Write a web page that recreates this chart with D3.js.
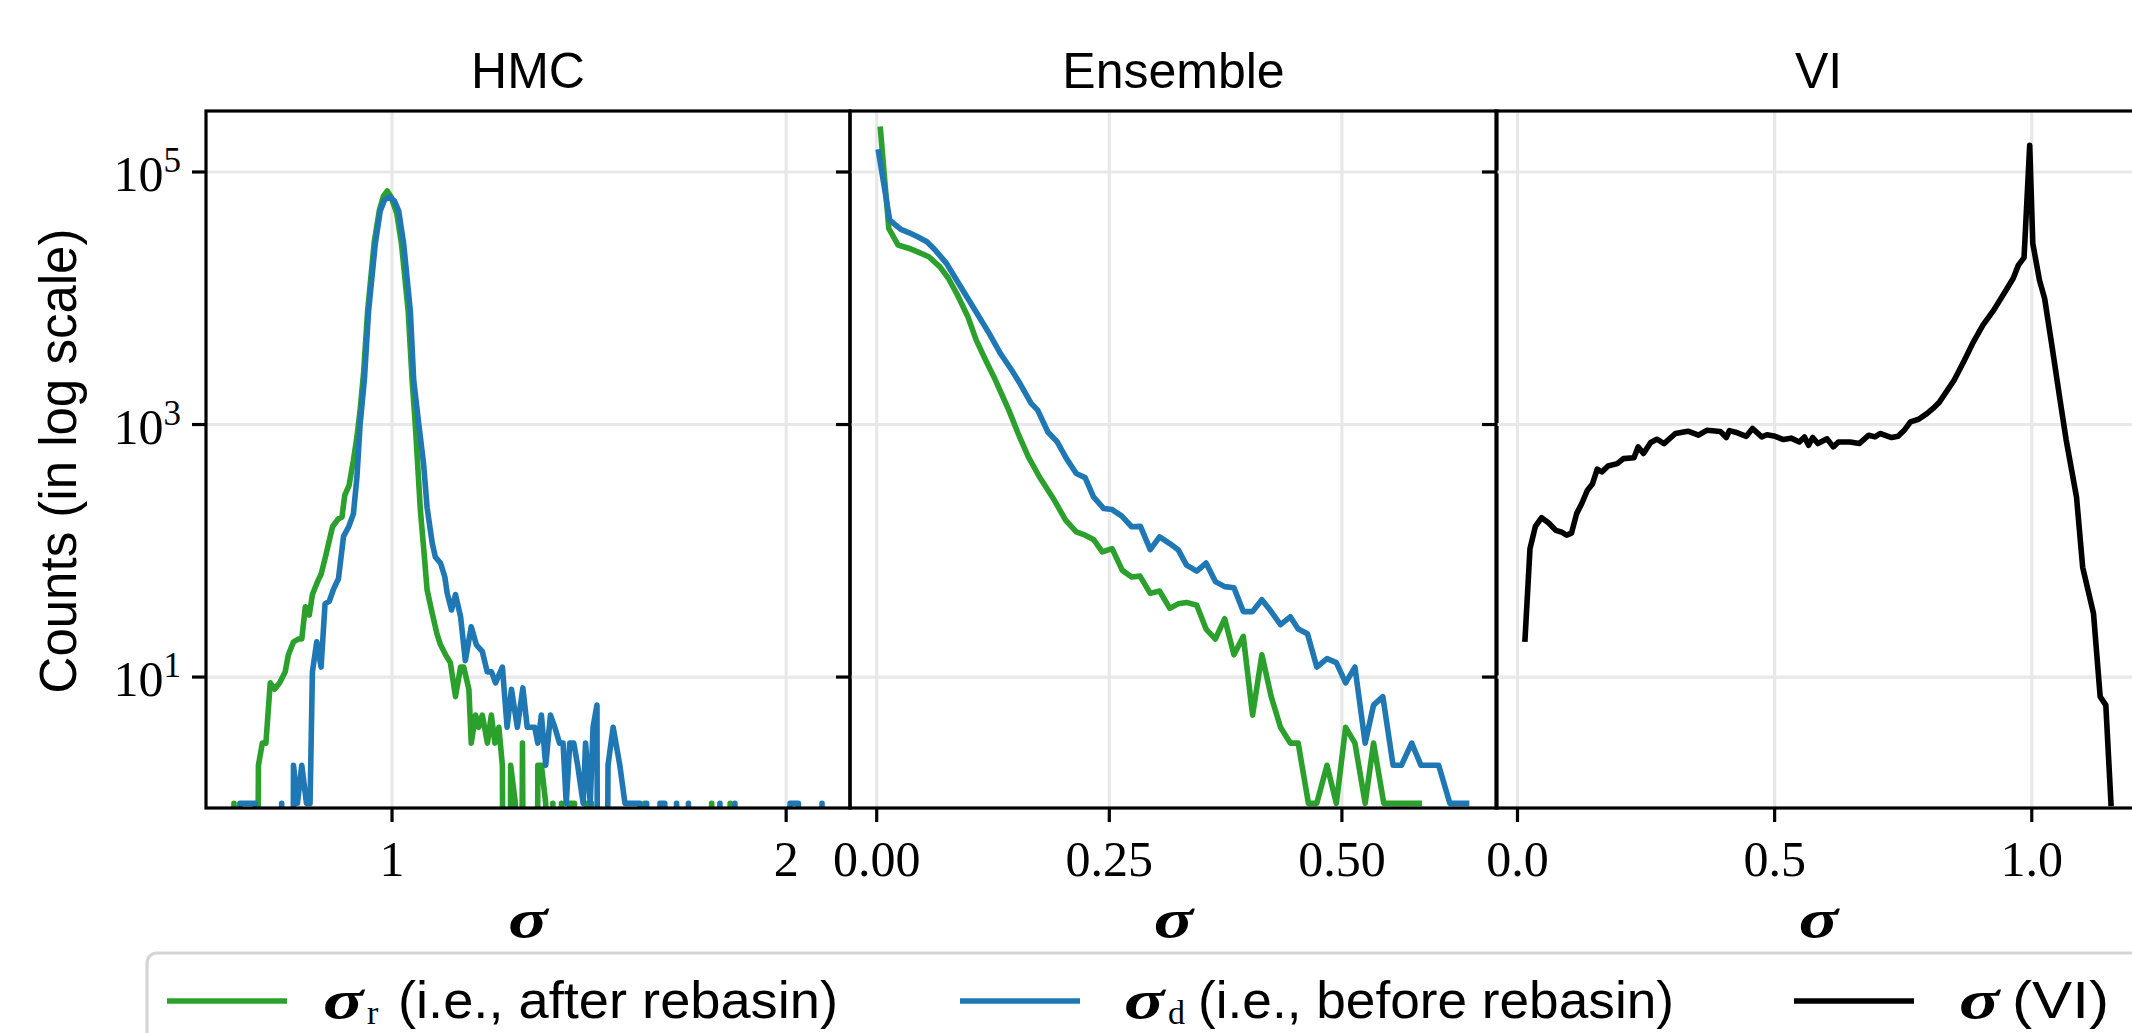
<!DOCTYPE html>
<html><head><meta charset="utf-8">
<script src="https://cdn.jsdelivr.net/npm/d3@7"></script>
<style>html,body{margin:0;padding:0;background:#fff;overflow:hidden}</style>
</head><body>
<svg id="chart" width="2132" height="1033" xmlns="http://www.w3.org/2000/svg"></svg>
<script>
// ---------------- DATA ----------------
const panelTitles = ["HMC", "Ensemble", "VI"];
const xLabel = "σ";
const yLabel = "Counts (in log scale)";

const hmcTicks = [1, 2];
const hmcTickLabels = ["1", "2"];
const ensTicks = [0, 0.25, 0.5];
const ensTickLabels = ["0.00", "0.25", "0.50"];
const viTicks = [0, 0.5, 1.0];
const viTickLabels = ["0.0", "0.5", "1.0"];
const yTicks = [10, 1000, 100000];
const yTickExponents = ["1", "3", "5"];

const legendLabels = ["(i.e., after rebasin)", "(i.e., before rebasin)", "(VI)"];
const legendSubscripts = ["r", "d", ""];

// HMC, sigma_r (after rebasin)
const hmcRebasinSigma = [0.588,0.599,0.611,0.650,0.661,0.671,0.680,0.691,0.702,0.715,0.729,0.737,0.750,0.763,0.771,0.780,0.790,0.798,0.813,0.820,0.832,0.849,0.864,0.873,0.880,0.891,0.902,0.911,0.919,0.928,0.938,0.955,0.968,0.978,0.988,0.997,1.012,1.024,1.041,1.051,1.059,1.072,1.080,1.089,1.102,1.114,1.123,1.136,1.148,1.161,1.174,1.182,1.195,1.201,1.212,1.220,1.229,1.242,1.252,1.261,1.271,1.280,1.288,1.296,1.301,1.313,1.321,1.331,1.341,1.362,1.370,1.379,1.390,1.396,1.408,1.420,1.430,1.440,1.451,1.463,1.475,1.482,1.493,1.506,1.518,1.630,1.641,1.653,1.799,1.811,1.823,1.846,1.858,1.870];
const hmcRebasinCounts = [0,1,0,0,2,3,3,9,8,9,11,15,19,20,20,36,31,45,59,65,92,155,180,185,275,330,520,800,1300,2600,7900,28000,50000,64000,70800,64000,47000,27000,7900,2240,1000,209,107,49,32,22,18,15,13,7,12,12,8,3,5,4,5,3,5,3,4,2,0,0,2,1,0,3,0,0,2,2,1,0,1,0,1,0,1,1,0,0,1,1,0,0,1,0,0,1,0,0,1,0];

// HMC, sigma_d (before rebasin)
const hmcDirectSigma = [0.602,0.614,0.627,0.640,0.653,0.665,0.708,0.720,0.732,0.742,0.750,0.760,0.771,0.783,0.792,0.798,0.809,0.820,0.830,0.841,0.852,0.864,0.877,0.890,0.902,0.911,0.919,0.930,0.9405,0.9575,0.970,0.981,0.9935,1.006,1.017,1.0295,1.0465,1.055,1.068,1.080,1.089,1.102,1.110,1.123,1.134,1.140,1.151,1.161,1.174,1.186,1.201,1.214,1.229,1.2415,1.2525,1.2626,1.280,1.292,1.303,1.318,1.332,1.343,1.354,1.362,1.370,1.379,1.390,1.402,1.413,1.425,1.434,1.442,1.451,1.461,1.471,1.485,1.491,1.503,1.510,1.520,1.525,1.537,1.548,1.561,1.578,1.591,1.604,1.616,1.629,1.638,1.634,1.646,1.658,1.668,1.680,1.692,1.704,1.710,1.722,1.734,1.740,1.752,1.764,1.820,1.832,1.844,1.858,1.870,1.882,1.998,2.010,2.031,2.043,2.079,2.091,2.103];
const hmcDirectCounts = [0,1,1,1,1,0,0,1,0,0,2,1,2,1,1,11,19,12,38,40,50,60,130,155,196,385,1000,2300,7900,27000,49000,60000,63500,59000,49000,27000,7900,2240,1000,490,220,115,89,80,62,46,34,45,30,13.5,25,18,16,11,11,9,12,4,8,4,8.2,4,4,4,3,5,2,5,4,3,3,1,3,3,2,1,3,1,4,6,0,0,2,4,2,1,1,1,1,0,0,1,0,0,1,1,0,0,1,0,0,1,0,0,1,0,0,1,0,0,1,1,0,0,1,0];

// Ensemble, sigma_r
const ensRebasinSigma = [0.004,0.013,0.023,0.035,0.044,0.056,0.068,0.077,0.086,0.098,0.107,0.117,0.126,0.134,0.142,0.152,0.163,0.175,0.191,0.203,0.2145,0.224,0.233,0.2425,0.253,0.264,0.274,0.283,0.294,0.304,0.315,0.324,0.333,0.344,0.354,0.364,0.374,0.384,0.394,0.404,0.414,0.424,0.434,0.4445,0.453,0.464,0.473,0.484,0.494,0.504,0.514,0.525,0.534,0.545,0.555,0.564,0.574,0.583];
const ensRebasinCounts = [218000,35700,26400,24800,23300,21300,17700,14400,10900,7130,4660,3240,2380,1760,1300,849,554,384,251,175,141,133,123,98,104,70,62,63,46,48,35,38,39,37,24,20,29,15,21,5,15,7,4,3,3,1,1,2,1,4,3,1,3,1,1,1,1,1];

// Ensemble, sigma_d
const ensDirectSigma = [0.002,0.014,0.026,0.035,0.044,0.054,0.063,0.075,0.086,0.098,0.110,0.121,0.133,0.145,0.154,0.166,0.173,0.184,0.194,0.204,0.2145,0.224,0.233,0.244,0.253,0.2635,0.274,0.2835,0.294,0.304,0.315,0.324,0.333,0.344,0.354,0.364,0.374,0.384,0.394,0.404,0.414,0.424,0.434,0.4445,0.453,0.463,0.473,0.484,0.494,0.504,0.514,0.525,0.534,0.544,0.555,0.564,0.575,0.585,0.594,0.604,0.616,0.625,0.634];
const ensDirectCounts = [144000,41600,35100,33000,30700,28000,24000,18900,13900,9950,7130,5250,3650,2700,2110,1470,1300,873,728,537,409,380,267,216,212,188,155,156,102,129,114,102,77,69,80,57,52,51,33,33,41,33,26,30,24,22,12,14,13,9,12,3,6,7,2,2,3,2,2,2,1,1,1];

// VI, sigma
const viSigma = [0.0146,0.0243,0.0348,0.0469,0.0607,0.0745,0.085,0.0955,0.105,0.115,0.125,0.136,0.146,0.155,0.164,0.176,0.194,0.206,0.2265,0.2345,0.245,0.259,0.271,0.285,0.307,0.3315,0.352,0.368,0.3945,0.406,0.412,0.424,0.445,0.457,0.475,0.485,0.501,0.517,0.532,0.548,0.558,0.566,0.574,0.584,0.602,0.614,0.624,0.647,0.6645,0.683,0.695,0.705,0.7275,0.740,0.752,0.764,0.780,0.796,0.808,0.8207,0.849,0.869,0.885,0.905,0.926,0.946,0.964,0.974,0.985,0.996,1.002,1.015,1.025,1.040,1.055,1.067,1.087,1.099,1.120,1.133,1.144,1.154];
const viCounts = [20,104,156,183,166,145,141,133,138,197,237,302,340,443,421,470,490,537,546,665,590,720,765,707,849,885,823,900,880,789,895,870,807,930,798,830,807,760,780,728,798,685,789,707,770,665,728,728,707,823,798,849,789,807,900,1050,1100,1220,1340,1510,2240,3230,4390,6120,8050,10900,14400,18300,21000,163000,27200,13900,9950,4000,1560,751,267,74,32,7,6,1];

// ---------------- LAYOUT / STYLE ----------------
const W = 2132, H = 1033;
const plotTop = 111, plotBottom = 808;
const colGreen = "#2ca02c", colBlue = "#1f77b4", colBlack = "#000000";
const serif = "'Liberation Serif','Times New Roman',serif";
const sans = "'Liberation Sans',Arial,sans-serif";
const lineW = 5.6, spineW = 3.2, tickLen = 14;

const panels = [
  {x0: 206, x1: 850, domain: [0.528, 2.162], ticks: hmcTicks, labels: hmcTickLabels,
   series: [[hmcRebasinSigma, hmcRebasinCounts, colGreen], [hmcDirectSigma, hmcDirectCounts, colBlue]]},
  {x0: 850, x1: 1497, domain: [-0.0287, 0.6667], ticks: ensTicks, labels: ensTickLabels,
   series: [[ensRebasinSigma, ensRebasinCounts, colGreen], [ensDirectSigma, ensDirectCounts, colBlue]]},
  {x0: 1496, x1: 2141, domain: [-0.0418, 1.2124], ticks: viTicks, labels: viTickLabels,
   series: [[viSigma, viCounts, colBlack]]}
];

const svg = d3.select("#chart");
svg.append("rect").attr("width", W).attr("height", H).attr("fill", "#fff");
const defs = svg.append("defs");

const y = d3.scaleLog().domain([Math.pow(10, -0.037), Math.pow(10, 5.483)]).range([plotBottom, plotTop]);
const yOf = v => y(v > 0 ? v : 1e-6);   // zero counts are clipped far below the axis

// bold sigma, widened horizontally to mimic the LaTeX bold math glyph
function boldSigma(parent, x, yb, anchor, size, targetW) {
  const t = parent.append("text").attr("x", x).attr("y", yb).attr("text-anchor", anchor)
    .attr("font-family", serif).attr("font-weight", "bold").attr("font-style", "italic")
    .attr("font-size", size).text(xLabel);
  const w = t.node().getBBox().width || targetW;
  const s = targetW / w;
  t.attr("transform", `translate(${x},0) scale(${s},1) translate(${-x},0)`);
  return t;
}

panels.forEach((p, i) => {
  const x = d3.scaleLinear().domain(p.domain).range([p.x0, p.x1]);
  const g = svg.append("g");
  defs.append("clipPath").attr("id", "clip" + i)
    .append("rect").attr("x", p.x0).attr("y", plotTop).attr("width", p.x1 - p.x0).attr("height", plotBottom - plotTop);

  // grid
  const grid = g.append("g").attr("stroke", "#e8e8e8").attr("stroke-width", 3.2);
  p.ticks.forEach(t => grid.append("line").attr("x1", x(t)).attr("x2", x(t)).attr("y1", plotTop).attr("y2", plotBottom));
  yTicks.forEach(t => grid.append("line").attr("x1", p.x0).attr("x2", p.x1).attr("y1", y(t)).attr("y2", y(t)));

  // series
  const line = d3.line().x(d => x(d[0])).y(d => yOf(d[1]));
  const sg = g.append("g").attr("clip-path", `url(#clip${i})`);
  p.series.forEach(([xs, cs, col]) => {
    sg.append("path").attr("d", line(d3.zip(xs, cs)))
      .attr("fill", "none").attr("stroke", col).attr("stroke-width", lineW)
      .attr("stroke-linejoin", "round").attr("stroke-linecap", "square");
  });

  // spines
  g.append("rect").attr("x", p.x0).attr("y", plotTop).attr("width", p.x1 - p.x0).attr("height", plotBottom - plotTop)
    .attr("fill", "none").attr("stroke", "#000").attr("stroke-width", spineW);

  // x ticks
  p.ticks.forEach((t, k) => {
    g.append("line").attr("x1", x(t)).attr("x2", x(t)).attr("y1", plotBottom).attr("y2", plotBottom + tickLen)
      .attr("stroke", "#000").attr("stroke-width", spineW);
    g.append("text").attr("x", x(t)).attr("y", 876).attr("text-anchor", "middle")
      .attr("font-family", serif).attr("font-size", 50).text(p.labels[k]);
  });
  // y ticks
  yTicks.forEach(t => {
    g.append("line").attr("x1", p.x0 - tickLen).attr("x2", p.x0).attr("y1", y(t)).attr("y2", y(t))
      .attr("stroke", "#000").attr("stroke-width", spineW);
  });

  // title
  g.append("text").attr("x", (p.x0 + p.x1) / 2).attr("y", 88).attr("text-anchor", "middle")
    .attr("font-family", sans).attr("font-size", 50).text(panelTitles[i]);
  // x label
  boldSigma(g, (p.x0 + p.x1) / 2, 937, "middle", 54, 42);
});

// y tick labels (first panel only)
yTicks.forEach((t, k) => {
  const tx = svg.append("text").attr("x", 181).attr("y", y(t) + 19).attr("text-anchor", "end")
    .attr("font-family", serif).attr("font-size", 50);
  tx.append("tspan").text("10");
  tx.append("tspan").attr("dy", -19).attr("font-size", 35).text(yTickExponents[k]);
});

// y label
svg.append("text").attr("transform", "translate(76,461) rotate(-90)").attr("text-anchor", "middle")
  .attr("font-family", sans).attr("font-size", 51).text(yLabel);

// legend
svg.append("rect").attr("x", 147).attr("y", 953).attr("width", 2132).attr("height", 200).attr("rx", 10)
  .attr("fill", "#fff").attr("stroke", "#d4d4d4").attr("stroke-width", 3.2);
const legendItems = [
  {hx: 167, sx: 323, subx: 367, tx: 398, tend: 838, col: colGreen},
  {hx: 960, sx: 1124, subx: 1168, tx: 1198, tend: 1674, col: colBlue},
  {hx: 1794, sx: 1959, subx: 0, tx: 2012, tend: 2109, col: colBlack}
];
const legendBase = 1018;
legendItems.forEach((it, k) => {
  svg.append("line").attr("x1", it.hx).attr("x2", it.hx + 120).attr("y1", 1001).attr("y2", 1001)
    .attr("stroke", it.col).attr("stroke-width", lineW);
  boldSigma(svg, it.sx, legendBase, "start", 54, 43);
  if (legendSubscripts[k]) {
    svg.append("text").attr("x", it.subx).attr("y", legendBase + 6).attr("font-family", serif)
      .attr("font-size", 34).text(legendSubscripts[k]);
  }
  svg.append("text").attr("x", it.tx).attr("y", legendBase).attr("font-family", sans)
    .attr("font-size", 52).attr("textLength", it.tend - it.tx).attr("lengthAdjust", "spacingAndGlyphs")
    .text(legendLabels[k]);
});
</script>
</body></html>
